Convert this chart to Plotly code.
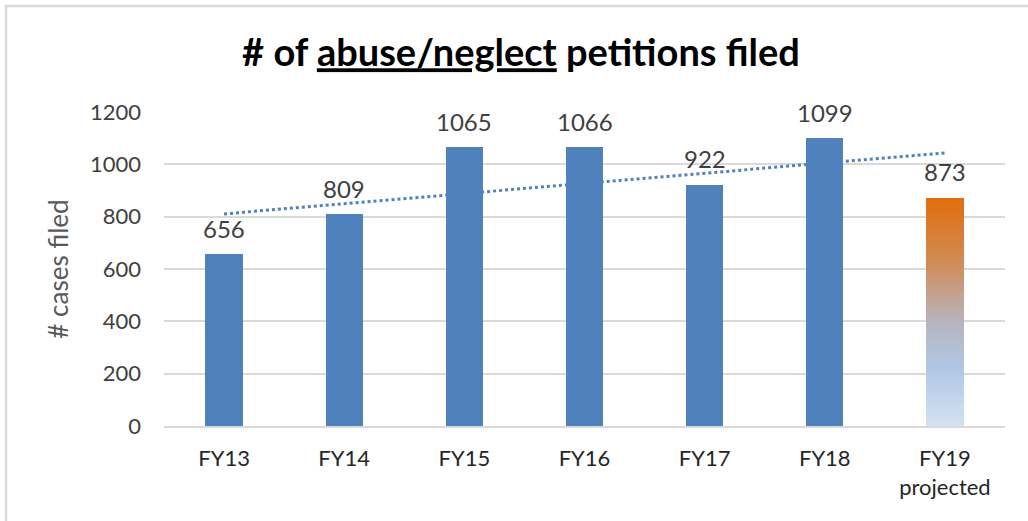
import plotly.graph_objects as go
import numpy as np

categories = ["FY13", "FY14", "FY15", "FY16", "FY17", "FY18", "FY19<br>projected"]
values = [656, 809, 1065, 1066, 922, 1099, 873]
y_ticks = [0, 200, 400, 600, 800, 1000, 1200]

BLUE = "#4F81BD"
FONT = "Lato, 'Open Sans', sans-serif"
W, H = 1028, 521
L, R, T, B = 164, W - 1005, 112, H - 426
pw, ph = W - L - R, H - T - B

fig = go.Figure()

# linear trendline (least squares over all points)
xi = np.arange(1, len(values) + 1)
slope, icpt = np.polyfit(xi, values, 1)
trend = [slope * x + icpt for x in xi]
fig.add_trace(go.Scatter(x=categories, y=trend, mode="lines",
                         line=dict(color=BLUE, width=3, dash="dot"),
                         hoverinfo="skip", showlegend=False))

# actual bars
fig.add_trace(go.Bar(x=categories[:-1], y=values[:-1], width=0.31,
                     marker=dict(color=BLUE, line=dict(width=0)),
                     showlegend=False))

# projected bar with vertical gradient (stacked thin segments)
stops = [(0.0, (212, 225, 242)), (0.25, (177, 199, 229)), (0.45, (182, 181, 192)),
         (0.7, (207, 142, 92)), (1.0, (227, 108, 10))]
def col(f):
    for (f0, c0), (f1, c1) in zip(stops[:-1], stops[1:]):
        if f <= f1:
            t = (f - f0) / (f1 - f0)
            return "rgb(%d,%d,%d)" % tuple(round(a + (b - a) * t) for a, b in zip(c0, c1))
    return "rgb(%d,%d,%d)" % stops[-1][1]
N = 80
v = values[-1]
seg = v / N
fig.add_trace(go.Bar(x=[categories[-1]] * N, y=[seg] * N, base=[i * seg for i in range(N)],
                     width=0.31,
                     marker=dict(color=[col((i + 0.5) / N) for i in range(N)], line=dict(width=0)),
                     hoverinfo="skip", showlegend=False))

# data labels
for c, val in zip(categories, values):
    fig.add_annotation(x=c, y=val, text=str(val), showarrow=False, yanchor="middle", yshift=26,
                       font=dict(family=FONT, size=24, color="#404040"))

fig.update_layout(
    width=W, height=H,
    margin=dict(l=L, r=R, t=T, b=B, autoexpand=False),
    paper_bgcolor="white", plot_bgcolor="white",
    barmode="overlay", bargap=0,
    title=dict(text="<b># of <span style='text-decoration:underline'>abuse/neglect</span> petitions filed</b>",
               x=521 / W, xref="container", y=1 - 53 / H, yref="container", xanchor="center", yanchor="middle",
               font=dict(family=FONT, size=38, color="black")),
    xaxis=dict(type="category", showgrid=False, showline=True, linecolor="#D9D9D9", linewidth=2,
               ticks="", ticklabelstandoff=12, tickfont=dict(family=FONT, size=22, color="#262626"),
               automargin=False, range=[-0.5, len(categories) - 0.5], fixedrange=True),
    yaxis=dict(range=[0, 1200], tickvals=y_ticks, showgrid=True, gridcolor="#D9D9D9", gridwidth=2,
               zeroline=False, showline=False, ticks="", ticklabelstandoff=22, automargin=False,
               tickfont=dict(family=FONT, size=22, color="#404040"),
               title=dict(text="# cases filed", standoff=13,
                          font=dict(family=FONT, size=26, color="#595959"))),
    shapes=[dict(type="rect", xref="paper", yref="paper",
                 x0=(6 - L) / pw, x1=(1040 - L) / pw,
                 y0=(426 - 540) / ph, y1=(426 - 6) / ph,
                 line=dict(color="#D9D9D9", width=2.5), fillcolor="rgba(0,0,0,0)", layer="below")],
)

fig.write_html("out.html", config={"displayModeBar": False},
               post_script="document.body.style.margin='0';")
